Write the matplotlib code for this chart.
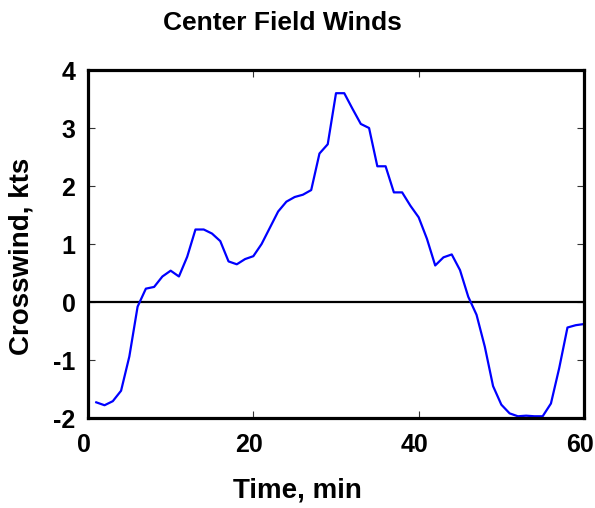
import matplotlib
matplotlib.use("Agg")
import matplotlib.pyplot as plt
import matplotlib.transforms as mtransforms

plt.rcParams['font.family'] = ['Liberation Sans', 'DejaVu Sans']
plt.rcParams['axes.unicode_minus'] = False

# crosswind readings, one per minute
minutes = list(range(1, 61))
crosswind = [-1.73, -1.78, -1.71, -1.53, -0.94, -0.08, 0.23, 0.26, 0.44, 0.54,
             0.44, 0.78, 1.25, 1.25, 1.18, 1.05, 0.70, 0.65, 0.74, 0.79,
             1.00, 1.28, 1.56, 1.73, 1.81, 1.85, 1.93, 2.56, 2.72, 3.60,
             3.60, 3.33, 3.07, 3.00, 2.34, 2.34, 1.89, 1.89, 1.66, 1.46,
             1.09, 0.63, 0.77, 0.82, 0.55, 0.09, -0.22, -0.77, -1.45, -1.77,
             -1.92, -1.97, -1.96, -1.97, -1.97, -1.75, -1.14, -0.44, -0.40, -0.38]

xticks = [0, 20, 40, 60]
yticks = [-2, -1, 0, 1, 2, 3, 4]

fig = plt.figure(figsize=(5.95, 5.08), dpi=100)
ax = fig.add_axes([88 / 595, 1 - 418 / 508, (584 - 88) / 595, (418 - 70) / 508])

ax.axhline(0, color='black', lw=1.6)
ax.plot(minutes, crosswind, color='#0000ff', lw=1.6)

ax.set_xlim(0, 60)
ax.set_ylim(-2, 4)
ax.set_xticks(xticks)
ax.set_yticks(yticks)
ax.tick_params(direction='in', length=5, width=0.8, color='#333333',
               top=True, right=True, labelsize=18)
ax.tick_params(axis='x', pad=11)
ax.tick_params(axis='y', pad=9)
shift = mtransforms.ScaledTranslation(-4 / 100, 0, fig.dpi_scale_trans)
for lab in ax.get_xticklabels():
    lab.set_fontweight('bold')
    lab.set_transform(lab.get_transform() + shift)
for lab in ax.get_yticklabels():
    lab.set_fontweight('bold')
for s in ax.spines.values():
    s.set_linewidth(2.3)

fig.text(282 / 595, 1 - 23 / 508, 'Center Field Winds', ha='center', va='center',
         fontsize=19, fontweight='bold')
fig.text(297 / 595, 1 - 490 / 508, 'Time, min', ha='center', va='center',
         fontsize=20, fontweight='bold')
fig.text(22 / 595, 1 - 256 / 508, 'Crosswind, kts', ha='center', va='center',
         rotation=90, fontsize=20, fontweight='bold')

fig.savefig('out.png', dpi=100)
